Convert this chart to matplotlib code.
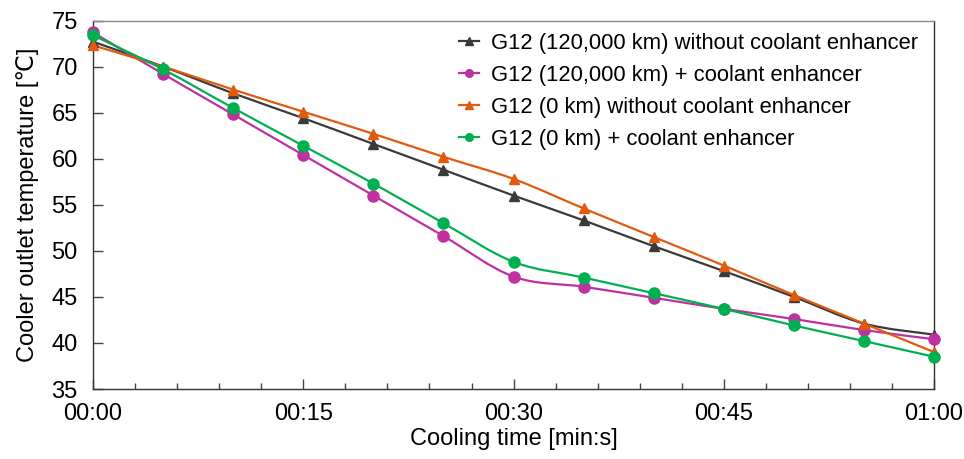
import matplotlib
matplotlib.use("Agg")
import matplotlib.pyplot as plt
from matplotlib.path import Path
from matplotlib.patches import PathPatch
from matplotlib.ticker import MultipleLocator, FuncFormatter
from matplotlib.lines import Line2D

plt.rcParams['font.family'] = ['Liberation Sans', 'DejaVu Sans']

time_s = [0, 5, 10, 15, 20, 25, 30, 35, 40, 45, 50, 55, 60]
g12_120k_without = [72.7, 70.0, 67.1, 64.4, 61.6, 58.8, 56.0, 53.3, 50.5, 47.8, 45.0, 42.1, 40.9]
g12_120k_with = [73.7, 69.2, 64.8, 60.4, 56.0, 51.6, 47.2, 46.1, 44.9, 43.7, 42.6, 41.4, 40.4]
g12_0k_without = [72.3, 70.0, 67.5, 65.1, 62.7, 60.2, 57.8, 54.6, 51.5, 48.4, 45.2, 42.1, 39.0]
g12_0k_with = [73.4, 69.7, 65.5, 61.4, 57.3, 53.0, 48.8, 47.1, 45.4, 43.7, 41.9, 40.2, 38.5]

labels = ["G12 (120,000 km) without coolant enhancer",
          "G12 (120,000 km) + coolant enhancer",
          "G12 (0 km) without coolant enhancer",
          "G12 (0 km) + coolant enhancer"]
series = [g12_120k_without, g12_120k_with, g12_0k_without, g12_0k_with]
colors = ["#3a3a3a", "#bf30a0", "#e05a10", "#00b050"]
markers = ["^", "o", "^", "o"]
msizes = [7.5, 8, 7.5, 8]


def smooth_path(xs, ys):
    pts = list(zip(xs, ys))
    n = len(pts)
    verts = [pts[0]]
    codes = [Path.MOVETO]
    for i in range(n - 1):
        p0 = pts[i - 1] if i > 0 else pts[i]
        p1 = pts[i]
        p2 = pts[i + 1]
        p3 = pts[i + 2] if i + 2 < n else pts[i + 1]
        c1 = (p1[0] + (p2[0] - p0[0]) / 6.0, p1[1] + (p2[1] - p0[1]) / 6.0)
        c2 = (p2[0] - (p3[0] - p1[0]) / 6.0, p2[1] - (p3[1] - p1[1]) / 6.0)
        verts += [c1, c2, p2]
        codes += [Path.CURVE4, Path.CURVE4, Path.CURVE4]
    return Path(verts, codes)


fig = plt.figure(figsize=(9.64, 4.59), dpi=100)
ax = fig.add_axes([0.0965, 0.1525, 0.8725, 0.8028])

handles = []
for ys, c, m, ms, lab in zip(series, colors, markers, msizes, labels):
    patch = PathPatch(smooth_path(time_s, ys), facecolor='none', edgecolor=c, lw=1.6, zorder=2)
    ax.add_patch(patch)
    ax.plot(time_s, ys, linestyle='none', marker=m, color=c, markersize=ms, zorder=3, clip_on=False)
    handles.append(Line2D([], [], color=c, marker=m, markersize=5.5, lw=1.6))

ax.set_xlim(0, 60)
ax.set_ylim(35, 75)
ax.xaxis.set_major_locator(MultipleLocator(15))
ax.xaxis.set_minor_locator(MultipleLocator(3))
ax.yaxis.set_major_locator(MultipleLocator(5))
ax.xaxis.set_major_formatter(FuncFormatter(lambda v, p: "%02d:%02d" % (int(round(v)) // 60, int(round(v)) % 60)))

ax.tick_params(axis='both', which='major', direction='in', labelsize=17, length=7, width=1, color='#444444')
ax.tick_params(axis='x', which='major', pad=10)
ax.tick_params(axis='y', which='major', pad=11)
ax.tick_params(axis='x', which='minor', direction='in', length=4, width=1, color='#444444')
ax.tick_params(axis='y', which='minor', left=False)
for s in ax.spines.values():
    s.set_color('#333333')
    s.set_linewidth(1.0)
ax.spines['top'].set_color('#888888')

ax.set_xlabel("Cooling time [min:s]", fontsize=17, labelpad=2)
ax.set_ylabel("Cooler outlet temperature [\u2103]", fontsize=17, labelpad=9)

ax.legend(handles, labels, loc='upper right', frameon=False, fontsize=15.8,
          handlelength=0.9, handletextpad=0.55, labelspacing=0.5,
          borderaxespad=0.15, bbox_to_anchor=(0.995, 1.0))

fig.savefig("out.png", dpi=100)
